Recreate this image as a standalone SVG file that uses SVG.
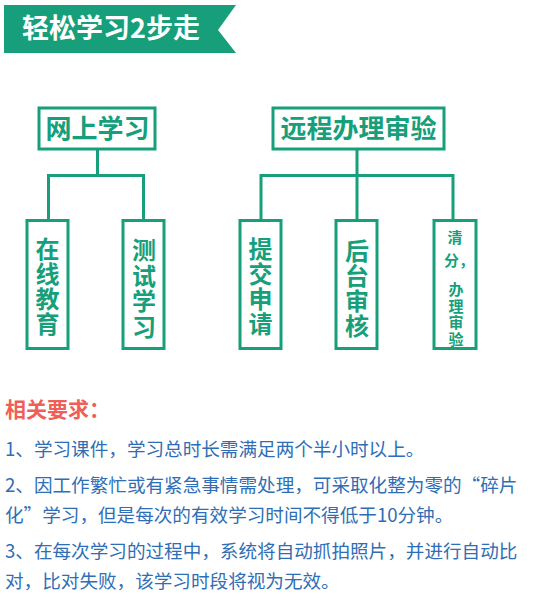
<svg xmlns="http://www.w3.org/2000/svg" width="556" height="597" viewBox="0 0 556 597">
<style>
.box{fill:#fff;stroke:#169f7a;stroke-width:3}
.con{fill:none;stroke:#169f7a;stroke-width:3}
.t{font-family:"Noto Sans CJK SC","Noto Sans",sans-serif;font-weight:bold;fill:#169f7a;text-anchor:middle}
.big{font-size:26px}
.v{font-size:24px}
.s{font-size:15px}
.body{font-family:"Noto Sans CJK SC","Noto Sans",sans-serif;font-size:18.6px;fill:#2f6eb5}
</style>
<rect width="556" height="597" fill="#fff"/>
<g id="banner">
<polygon points="4,5 236,5 218,30 236,53 4,53" fill="#169f7a"/>
<text x="22" y="38" font-family="'Noto Sans CJK SC',sans-serif" font-weight="bold" font-size="27" fill="#fff">轻松学习2步走</text>
</g>
<g id="connectors">
<path class="con" d="M97.5,150 V175.5 M48.5,175.5 H143.5 M48.5,174 V219 M143.5,174 V219"/>
<path class="con" d="M357,150 V175.5 M261,175.5 H453 M261,174 V219 M357,174 V219 M453,174 V219"/>
</g>
<g id="n-online">
<rect class="box" x="39" y="108" width="116" height="41"/>
<text class="t big" x="97.5" y="138">网上学习</text>
</g>
<g id="n-remote">
<rect class="box" x="273" y="108" width="171" height="41"/>
<text class="t big" x="358.5" y="138">远程办理审验</text>
</g>
<g id="n-zaixian">
<rect class="box" x="27" y="220.5" width="41" height="128"/>
<text class="t v" x="47.5" y="258">在</text>
<text class="t v" x="47.5" y="283">线</text>
<text class="t v" x="47.5" y="308">教</text>
<text class="t v" x="47.5" y="333">育</text>
</g>
<g id="n-ceshi">
<rect class="box" x="123" y="220.5" width="41" height="128"/>
<text class="t v" x="144" y="259">测</text>
<text class="t v" x="144" y="284.5">试</text>
<text class="t v" x="144" y="310">学</text>
<text class="t v" x="144" y="335.5">习</text>
</g>
<g id="n-tijiao">
<rect class="box" x="240" y="220.5" width="41" height="128"/>
<text class="t v" x="260.5" y="258">提</text>
<text class="t v" x="260.5" y="283">交</text>
<text class="t v" x="260.5" y="308">申</text>
<text class="t v" x="260.5" y="333">请</text>
</g>
<g id="n-houtai">
<rect class="box" x="336" y="220.5" width="41" height="128"/>
<text class="t v" x="357" y="260">后</text>
<text class="t v" x="357" y="285">台</text>
<text class="t v" x="357" y="310">审</text>
<text class="t v" x="357" y="335">核</text>
</g>
<g id="n-qingfen">
<rect class="box" x="434" y="220.5" width="42" height="128"/>
<text class="t s" x="455" y="243">清</text>
<text class="t s" x="459" y="266">分，</text>
<text class="t s" x="456" y="295">办</text>
<text class="t s" x="456" y="312">理</text>
<text class="t s" x="456" y="328">审</text>
<text class="t s" x="456" y="345">验</text>
</g>
<g id="requirements">
<text x="5" y="417" font-family="'Noto Sans CJK SC',sans-serif" font-weight="bold" font-size="21" fill="#ef5f57">相关要求：</text>
<text class="body" x="5" y="456">1、学习课件，学习总时长需满足两个半小时以上。</text>
<text class="body" x="5" y="492">2、因工作繁忙或有紧急事情需处理，可采取化整为零的“碎片</text>
<text class="body" x="5" y="522">化”学习，但是每次的有效学习时间不得低于10分钟。</text>
<text class="body" x="5" y="558">3、在每次学习的过程中，系统将自动抓拍照片，并进行自动比</text>
<text class="body" x="5" y="588">对，比对失败，该学习时段将视为无效。</text>
</g>
</svg>
